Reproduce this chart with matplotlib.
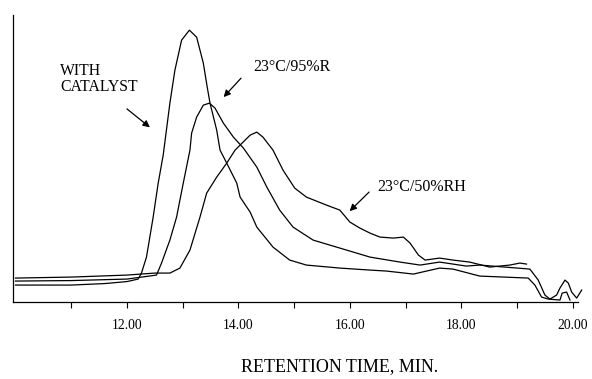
import matplotlib
matplotlib.use("Agg")
import matplotlib.pyplot as plt

# retention time (min) and detector response (arbitrary units)
cat_t = [10.0, 11.0, 11.6, 12.0, 12.2, 12.26, 12.35, 12.47, 12.56, 12.65, 12.77, 12.86, 12.98,
         13.12, 13.25, 13.37, 13.44, 13.49, 13.61, 13.67, 13.79, 13.97, 14.03, 14.21, 14.33,
         14.62, 14.92, 15.22, 15.82, 16.36, 16.66, 17.14, 17.61, 17.85, 18.33, 19.20, 19.32,
         19.44, 19.56, 19.77, 19.81, 19.89, 19.95]
cat_y = [17, 17, 18.5, 20.5, 23, 29, 45, 85, 119, 147, 199, 232, 262,
         272, 265, 239, 215, 199, 172, 152, 139, 119, 105, 90, 75,
         55, 42, 37, 34, 32, 31, 28, 34, 33, 26, 24, 17,
         5, 3, 2, 9, 10, 2]

rh95_t = [10.0, 11.0, 12.0, 12.4, 12.53, 12.62, 12.77, 12.89, 13.01, 13.13, 13.16, 13.25, 13.37,
          13.48, 13.58, 13.73, 13.91, 14.09, 14.33, 14.51, 14.74, 14.98, 15.34, 15.82, 16.36,
          16.90, 17.26, 17.61, 18.09, 18.33, 19.23, 19.38, 19.50, 19.59, 19.71, 19.77, 19.86,
          19.92, 19.98, 20.07, 20.16]
rh95_y = [21, 21.5, 23, 26, 27, 39, 62, 85, 119, 152, 169, 185, 197,
          199, 194, 179, 165, 154, 135, 115, 92, 75, 62, 54, 45,
          40, 37, 40, 36, 37, 33, 22, 7, 3, 7, 14, 22,
          19, 10, 4, 12]

rh50_t = [10.0, 11.0, 12.0, 12.5, 12.77, 12.95, 13.13, 13.31, 13.43, 13.61, 13.79, 13.94, 14.21,
          14.33, 14.44, 14.62, 14.80, 15.01, 15.22, 15.58, 15.82, 16.00, 16.18, 16.36, 16.54,
          16.78, 16.96, 17.08, 17.23, 17.35, 17.61, 17.85, 18.15, 18.51, 18.87, 19.05, 19.17]
rh50_y = [24, 25, 27, 29, 29, 34, 52, 85, 109, 125, 139, 152, 167,
          170, 165, 152, 132, 114, 105, 97, 92, 80, 74, 69, 65,
          64, 65, 59, 47, 42, 44, 42, 40, 35, 37, 39, 38]

major_ticks = [12, 14, 16, 18, 20]
minor_ticks = [11, 13, 15, 17, 19]
tick_labels = ["12.00", "14.00", "16.00", "18.00", "20.00"]

serif = "Liberation Serif"

fig = plt.figure(figsize=(5.92, 3.79), dpi=100)
ax = fig.add_axes([0.022, 0.203, 0.954, 0.757])

for t, y in [(cat_t, cat_y), (rh95_t, rh95_y), (rh50_t, rh50_y)]:
    ax.plot(t, y, color="black", lw=0.9, clip_on=False, solid_joinstyle="round")

ax.set_xlim(9.955, 20.09)
ax.set_ylim(0, 287)

ax.spines["top"].set_visible(False)
ax.spines["right"].set_visible(False)
ax.spines["left"].set_linewidth(0.9)
ax.spines["bottom"].set_linewidth(0.9)

ax.set_xticks(major_ticks)
ax.set_xticklabels(tick_labels, fontfamily=serif, fontsize=9.8)
ax.set_xticks(minor_ticks, minor=True)
ax.tick_params(axis="x", which="both", direction="out", length=4, width=0.8, pad=8.5)
ax.set_yticks([])

# axis title sits right of centre in the original
fig.text(0.573, 1 - 367 / 379, "RETENTION TIME, MIN.", fontfamily=serif, fontsize=13,
         ha="center", va="center")

ax.text(10.80, 239, "WITH\nCATALYST", fontfamily=serif, fontsize=11.3, va="top",
        linespacing=1.0)
ax.text(14.26, 235, "23°C/95%R", fontfamily=serif, fontsize=11.5, va="center")
ax.text(16.50, 115, "23°C/50%RH", fontfamily=serif, fontsize=11.5, va="center")

arrow = dict(arrowstyle="-|>", color="black", lw=0.9, mutation_scale=10)
ax.annotate("", xy=(12.45, 173), xytext=(11.96, 195), arrowprops=arrow)
ax.annotate("", xy=(13.70, 203), xytext=(14.08, 226), arrowprops=arrow)
ax.annotate("", xy=(15.96, 89), xytext=(16.38, 112), arrowprops=arrow)

fig.savefig("out.png", dpi=100)
